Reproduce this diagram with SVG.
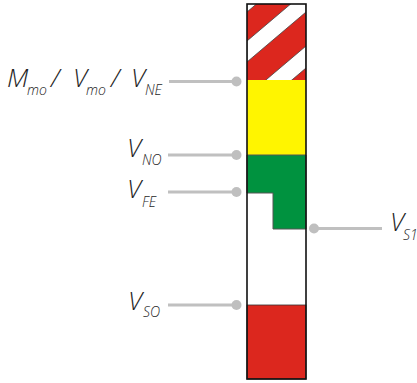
<svg xmlns="http://www.w3.org/2000/svg" width="417" height="383" viewBox="0 0 417 383">
<style>
.t{font-family:"Open Sans","Liberation Sans",sans-serif;font-style:italic;font-weight:300;fill:#1e1e1e;font-size:26px}
.s{font-size:14px}
.c{stroke:#c0c0c0;stroke-width:2.8;fill:none}
.d{fill:#bfbfbf}
.edge{stroke:#444;stroke-width:0.8}
</style>
<defs>
<clipPath id="barclip"><rect x="247" y="4" width="59" height="76"/></clipPath>
</defs>
<g id="bar">
<rect x="247" y="4" width="59" height="76" fill="#dc271e"/>
<g clip-path="url(#barclip)" fill="#fff" class="edge">
<polygon points="247,-30 306,-80 306,-38 247,12"/>
<polygon points="247,41 306,-9 306,12 247,62"/>
<polygon points="247,96 306,46 306,68 247,118"/>
</g>
<rect x="247" y="80" width="59" height="75" fill="#fff500"/>
<polygon points="247,155 306,155 306,229 273,229 273,193 247,193" fill="#00923f" stroke="#555" stroke-width="1"/>
<rect x="247" y="305" width="59" height="74" fill="#dc271e" stroke="#333" stroke-width="0.8"/>
<rect x="247" y="4" width="59" height="375" fill="none" stroke="#111" stroke-width="1.6"/>
</g>
<g id="connectors">
<line class="c" x1="169" y1="81.5" x2="236" y2="81.5"/>
<circle class="d" cx="236.5" cy="81.5" r="5"/>
<line class="c" x1="168" y1="155" x2="236" y2="155"/>
<circle class="d" cx="236.5" cy="155" r="5"/>
<line class="c" x1="168" y1="192" x2="236" y2="192"/>
<circle class="d" cx="236.5" cy="192" r="5"/>
<line class="c" x1="314" y1="228.5" x2="382" y2="228.5"/>
<circle class="d" cx="314" cy="228.5" r="5"/>
<line class="c" x1="168" y1="305" x2="236" y2="305"/>
<circle class="d" cx="236.5" cy="305" r="5"/>
</g>
<g id="label-mmo">
<text class="t" x="7" y="87">M</text><text class="t s" x="27" y="95">mo</text>
<text class="t" x="51" y="87">/</text>
<text class="t" x="73" y="87">V</text><text class="t s" x="86" y="95">mo</text>
<text class="t" x="111" y="87">/</text>
<text class="t" x="131" y="87">V</text><text class="t s" x="145" y="95">NE</text>
</g>
<g id="label-vno"><text class="t" x="127" y="157">V</text><text class="t s" x="142" y="165">NO</text></g>
<g id="label-vfe"><text class="t" x="127" y="198">V</text><text class="t s" x="142" y="207">FE</text></g>
<g id="label-vs1"><text class="t" x="390" y="231">V</text><text class="t s" x="403" y="240">S1</text></g>
<g id="label-vso"><text class="t" x="128" y="310">V</text><text class="t s" x="143" y="317">SO</text></g>
</svg>
